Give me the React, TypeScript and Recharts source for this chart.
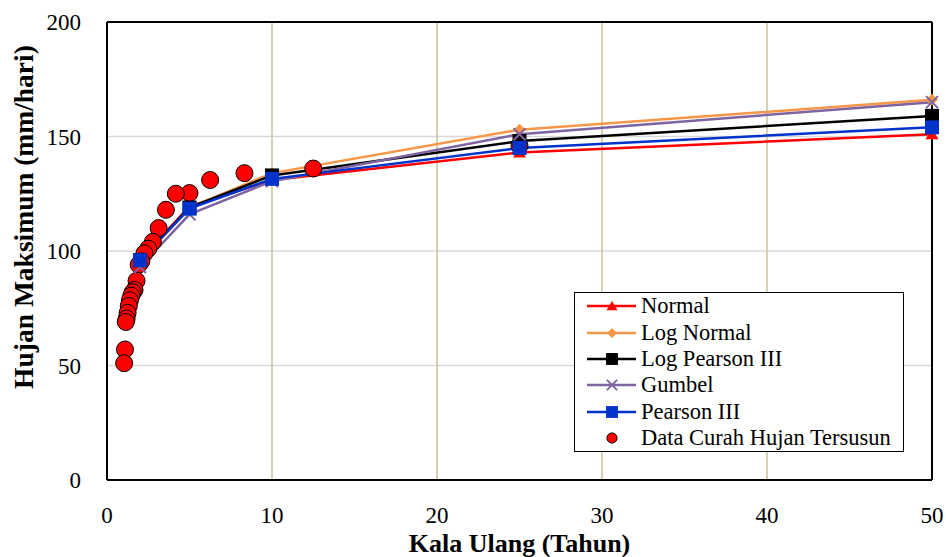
import React from 'react';
import { ComposedChart, Line, Scatter, XAxis, YAxis, CartesianGrid, ReferenceLine, Legend } from 'recharts';

// Kala ulang (tahun) untuk hasil analisis distribusi
const returnPeriods = [2, 5, 10, 25, 50];
const normal = [96, 119.5, 131, 143, 151];
const logNormal = [95, 119, 134, 153, 166];
const logPearson = [96, 119, 133, 148, 159];
const gumbel = [93, 116, 130.5, 151, 165];
const pearson = [96, 118.5, 131.5, 145, 154];

// Data curah hujan tersusun (periode ulang Weibull)
const obsPeriods = [25, 12.5, 8.33, 6.25, 5, 4.17, 3.57, 3.13, 2.78, 2.5, 2.27, 2.08, 1.92, 1.79, 1.67, 1.56, 1.47, 1.39, 1.32, 1.25, 1.19, 1.14, 1.09, 1.04];
const obsRain = [146, 136, 134, 131, 125.3, 125, 118, 110, 104, 101, 99, 95.5, 94, 87, 83, 82, 80.5, 78.5, 76, 73, 70.5, 69, 57, 51];

const xTicks = [0, 10, 20, 30, 40, 50];
const yTicks = [0, 50, 100, 150, 200];

const FONT = "'Liberation Serif', 'Times New Roman', serif";

type Shape = 'triangle' | 'diamond' | 'square' | 'cross' | 'circle';

const series: { name: string; values: number[]; color: string; shape: Shape }[] = [
  { name: 'Normal', values: normal, color: '#ff0000', shape: 'triangle' },
  { name: 'Log Normal', values: logNormal, color: '#f79646', shape: 'diamond' },
  { name: 'Log Pearson III', values: logPearson, color: '#000000', shape: 'square' },
  { name: 'Gumbel', values: gumbel, color: '#8064a2', shape: 'cross' },
  { name: 'Pearson III', values: pearson, color: '#0033cc', shape: 'square' },
];

const toRows = (vals: number[]) => returnPeriods.map((t, i) => ({ t, v: vals[i] }));
const obsRows = obsPeriods.map((t, i) => ({ t, v: obsRain[i] }));

function marker(shape: Shape, color: string, cx: number, cy: number, key?: string | number, s = 1) {
  switch (shape) {
    case 'triangle':
      return <path key={key} d={`M${cx},${cy - 6 * s} L${cx + 6.5 * s},${cy + 5 * s} L${cx - 6.5 * s},${cy + 5 * s} Z`} fill={color} />;
    case 'diamond':
      return <path key={key} d={`M${cx},${cy - 6 * s} L${cx + 6 * s},${cy} L${cx},${cy + 6 * s} L${cx - 6 * s},${cy} Z`} fill={color} />;
    case 'square':
      return <rect key={key} x={cx - 7 * s} y={cy - 7 * s} width={14 * s} height={14 * s} fill={color} />;
    case 'cross':
      return (
        <path key={key} d={`M${cx - 6 * s},${cy - 6 * s} L${cx + 6 * s},${cy + 6 * s} M${cx + 6 * s},${cy - 6 * s} L${cx - 6 * s},${cy + 6 * s}`} stroke={color} strokeWidth={2} fill="none" />
      );
    default:
      return <circle key={key} cx={cx} cy={cy} r={8.5 * s} fill="#ff0000" stroke="#000" strokeWidth={1} />;
  }
}

function LegendBox() {
  const items = [...series.map((s) => ({ name: s.name, color: s.color, shape: s.shape, line: true })), { name: 'Data Curah Hujan Tersusun', color: '#ff0000', shape: 'circle' as Shape, line: false }];
  return (
    <div style={{ border: '1px solid #000', background: '#fff', width: 330, height: 160, boxSizing: 'border-box', padding: '0 0 0 12px', fontFamily: FONT, fontSize: 22.5 }}>
      {items.map((it) => (
        <div key={it.name} style={{ display: 'flex', alignItems: 'center', height: 26.4 }}>
          <svg width={52} height={20} style={{ flex: 'none' }}>
            {it.line && <line x1={0} y1={10} x2={49} y2={10} stroke={it.color} strokeWidth={2.5} />}
            {marker(it.shape, it.color, 25, 10, undefined, it.shape === 'circle' ? 0.6 : 0.85)}
          </svg>
          <span style={{ marginLeft: 2, whiteSpace: 'nowrap' }}>{it.name}</span>
        </div>
      ))}
    </div>
  );
}

export default function App() {
  return (
    <div style={{ position: 'absolute', left: 0, top: 0, width: 946, height: 557, background: '#fff' }}>
      <ComposedChart width={946} height={557} margin={{ top: 22, right: 14, bottom: 0, left: 47 }}>
        <CartesianGrid horizontal={true} vertical={false} stroke="#d9d9d9" strokeWidth={1.5} />
        <CartesianGrid horizontal={false} vertical={true} stroke="#c9c09b" strokeWidth={1.5} />
        <XAxis
          type="number"
          dataKey="t"
          domain={[0, 50]}
          ticks={xTicks}
          allowDuplicatedCategory={false}
          height={77}
          tickLine={false}
          tickSize={0}
          tickMargin={27}
          axisLine={{ stroke: '#000', strokeWidth: 2 }}
          tick={{ fontSize: 23, fill: '#000', fontFamily: FONT }}
          label={{ value: 'Kala Ulang (Tahun)', position: 'insideBottom', offset: 5, style: { fontSize: 26, fontWeight: 'bold', fill: '#000', fontFamily: FONT } }}
        />
        <YAxis
          type="number"
          dataKey="v"
          domain={[0, 200]}
          ticks={yTicks}
          width={60}
          tickLine={false}
          tickSize={0}
          tickMargin={26}
          axisLine={{ stroke: '#000', strokeWidth: 2 }}
          tick={{ fontSize: 23, fill: '#000', fontFamily: FONT }}
          label={{
            value: 'Hujan Maksimum (mm/hari)',
            angle: -90,
            position: 'insideLeft',
            offset: -24,
            dy: -34,
            style: { textAnchor: 'middle', fontSize: 27.5, fontWeight: 'bold', fill: '#000', fontFamily: FONT },
          }}
        />
        <ReferenceLine y={200} stroke="#000" strokeWidth={2} />
        <ReferenceLine x={50} stroke="#000" strokeWidth={2} />
        {series.map((s) => (
          <Line
            key={s.name}
            data={toRows(s.values)}
            dataKey="v"
            name={s.name}
            stroke={s.color}
            strokeWidth={2.5}
            isAnimationActive={false}
            dot={(p: any) => marker(s.shape, s.color, p.cx, p.cy, `${s.name}-${p.index}`)}
            activeDot={false}
            legendType="none"
          />
        ))}
        <Scatter
          data={obsRows}
          dataKey="v"
          name="Data Curah Hujan Tersusun"
          isAnimationActive={false}
          shape={(p: any) => marker('circle', '#ff0000', p.cx, p.cy)}
        />
        <Legend
          layout="vertical"
          align="center"
          verticalAlign="middle"
          content={() => <LegendBox />}
          wrapperStyle={{ left: 574, top: 292, width: 330, height: 160 }}
        />
      </ComposedChart>
    </div>
  );
}
